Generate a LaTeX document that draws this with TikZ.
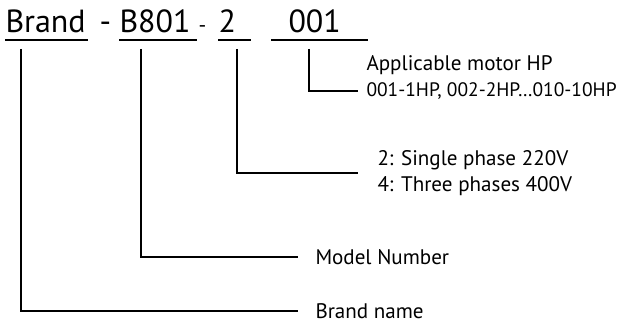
\documentclass[tikz,border=0pt]{standalone}
\usepackage{fontspec}
\setmainfont{PT Sans}
\tikzset{every picture/.style={line width=0.75pt}}
\tikzset{
  codetext/.style={anchor=base west, inner sep=0pt, font=\fontsize{24}{28}\selectfont},
  desctext/.style={anchor=west, inner xsep=6pt, inner ysep=0pt, align=left, font=\fontsize{15.8}{19.5}\selectfont},
  underln/.style={line width=1.5pt},
  leader/.style={line width=1.1pt},
}

\begin{document}
\begin{tikzpicture}[x=0.75pt,y=0.75pt,yscale=-1,xscale=1]
\useasboundingbox (0,0) rectangle (624,323);

% Text Node
\node [codetext] (brand) at (5,33) {Brand};
% Text Node
\node [codetext] (dashone) at (99,33) {-};
% Text Node
\node [codetext] (model) at (119,33) {B801};
% Text Node
\node [codetext, font=\fontsize{16}{20}\selectfont] (dashtwo) at (198,33) {-};
% Text Node
\node [codetext] (phase) at (218,33) {2};
% Text Node
\node [codetext] (power) at (288,33) {001};

%Straight Lines (underlines)
\draw [underln] (5,40) -- (88,40);
\draw [underln] (119,40) -- (197,40);
\draw [underln] (218,40) -- (251,40);
\draw [underln] (271,40) -- (368,40);

% start points below the underlines
\coordinate (brandtop) at (21,49);
\coordinate (modeltop) at (141,49);
\coordinate (phasetop) at (237,49);
\coordinate (powertop) at (309,49);

% Text Node
\node [desctext] (hpone) at (358,65) {Applicable motor HP};
% Text Node
\node [desctext, font=\fontsize{14.6}{19.5}\selectfont] (hptwo) at (358,91) {001-1HP, 002-2HP…010-10HP};
% Text Node
\node [desctext, inner xsep=14.25pt] (phases) at (358,173) {2: Single phase 220V\\4: Three phases 400V};
% Text Node
\node [desctext, inner xsep=12.75pt] (modelname) at (298,257) {Model Number};
% Text Node
\node [desctext, inner xsep=12.75pt] (brandname) at (298,311) {Brand name};

%Straight Lines (leaders)
\draw [leader] (powertop) |- (hptwo.west);
\draw [leader] (phasetop) |- (phases.west);
\draw [leader] (modeltop) |- (modelname.west);
\draw [leader] (brandtop) |- (brandname.west);

\end{tikzpicture}
\end{document}
